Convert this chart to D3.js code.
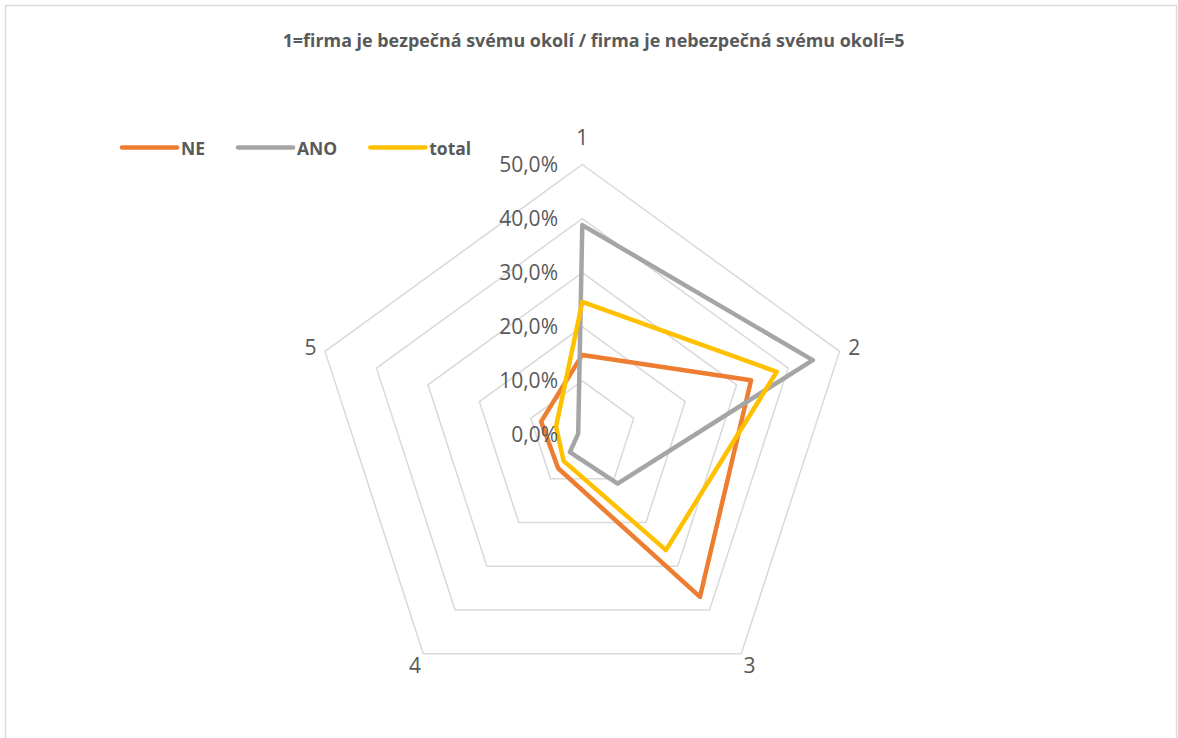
<!DOCTYPE html>
<html>
<head>
<meta charset="utf-8">
<script src="https://cdn.jsdelivr.net/npm/d3@7"></script>
<style>
  html, body { margin: 0; padding: 0; background: #ffffff; }
  svg { display: block; }
  text { font-family: "Open Sans", "Noto Sans", sans-serif; fill: #595959; }
</style>
</head>
<body>
<svg id="chart" width="1178" height="738"></svg>
<script>
// Radar chart data: share of answers per rating (1 = safe ... 5 = dangerous)
const categories = ["1", "2", "3", "4", "5"];
const tickValues = [0, 0.1, 0.2, 0.3, 0.4, 0.5];
const seriesNames = ["NE", "ANO", "total"];
const neValues = [0.148, 0.328, 0.370, 0.076, 0.080];
const anoValues = [0.388, 0.448, 0.111, 0.039, 0.008];
const totalValues = [0.246, 0.378, 0.263, 0.059, 0.051];
const seriesColors = ["#ED7D31", "#A5A5A5", "#FFC000"];
const titleText = "1=firma je bezpečná svému okolí / firma je nebezpečná svému okolí=5";

const series = [
  { name: seriesNames[0], values: neValues, color: seriesColors[0] },
  { name: seriesNames[1], values: anoValues, color: seriesColors[1] },
  { name: seriesNames[2], values: totalValues, color: seriesColors[2] }
];

const cx = 582.3, cy = 435, R = 270.5;

const svg = d3.select("#chart");

// chart area frame
svg.append("rect")
  .attr("x", 5.5).attr("y", 5.5)
  .attr("width", 1171).attr("height", 760)
  .attr("fill", "#ffffff")
  .attr("stroke", "#D9D9D9")
  .attr("stroke-width", 1.5);

// title
svg.append("text")
  .attr("x", 593.5).attr("y", 47)
  .attr("text-anchor", "middle")
  .attr("font-size", 17.9)
  .attr("font-weight", "bold")
  .text(titleText);

const r = d3.scaleLinear().domain([0, 0.5]).range([0, R]);
const angle = d3.scalePoint().domain(categories).range([0, 2 * Math.PI * (categories.length - 1) / categories.length]);

const g = svg.append("g").attr("transform", `translate(${cx},${cy})`);

// concentric grid pentagons
const ringLine = d3.lineRadial()
  .angle(c => angle(c))
  .curve(d3.curveLinearClosed);

g.selectAll("path.ring")
  .data(tickValues.filter(v => v > 0))
  .join("path")
  .attr("class", "ring")
  .attr("d", v => ringLine.radius(() => r(v))(categories))
  .attr("fill", "none")
  .attr("stroke", "#D9D9D9")
  .attr("stroke-width", 1.5);

// category labels around the outer ring
const labelGap = a => 14 + 14 * Math.pow(Math.max(0, Math.cos(a)), 2);
g.selectAll("text.cat")
  .data(categories)
  .join("text")
  .attr("class", "cat")
  .attr("x", c => (R + labelGap(angle(c))) * Math.sin(angle(c)))
  .attr("y", c => -(R + labelGap(angle(c))) * Math.cos(angle(c)))
  .attr("text-anchor", "middle")
  .attr("dominant-baseline", "central")
  .attr("font-size", 21)
  .text(c => c);

// value axis labels along the first spoke
const locale = d3.formatLocale({ decimal: ",", thousands: " ", grouping: [3], currency: ["", " Kč"] });
const yScale = d3.scaleLinear().domain([0, 0.5]).range([cy, cy - R]);
const yAxis = d3.axisLeft(yScale)
  .tickValues(tickValues)
  .tickSize(0)
  .tickPadding(0)
  .tickFormat(locale.format(".1%"));

const axisG = svg.append("g")
  .attr("transform", `translate(558,0)`)
  .call(yAxis);
axisG.select(".domain").remove();
axisG.selectAll("text")
  .attr("font-size", 21)
  .attr("font-family", "'Open Sans', 'Noto Sans', sans-serif")
  .attr("fill", "#595959");

// data series
const seriesLine = d3.lineRadial()
  .angle((d, i) => angle(categories[i]))
  .radius(d => r(d))
  .curve(d3.curveLinearClosed);

g.selectAll("path.series")
  .data(series)
  .join("path")
  .attr("class", "series")
  .attr("d", s => seriesLine(s.values))
  .attr("fill", "none")
  .attr("stroke", s => s.color)
  .attr("stroke-width", 4.5)
  .attr("stroke-linejoin", "round");

// legend: swatch line + bold name, items laid out left to right
const legend = svg.append("g").attr("transform", "translate(122,147.5)");
let cursor = 0;
series.forEach(s => {
  const item = legend.append("g").attr("transform", `translate(${cursor},0)`);
  item.append("line")
    .attr("x1", 0).attr("x2", 55)
    .attr("y1", 0).attr("y2", 0)
    .attr("stroke", s.color)
    .attr("stroke-width", 4.5)
    .attr("stroke-linecap", "round");
  const t = item.append("text")
    .attr("x", 59)
    .attr("y", 0)
    .attr("dominant-baseline", "central")
    .attr("font-size", 17.5)
    .attr("font-weight", "bold")
    .text(s.name);
  cursor += 59 + t.node().getComputedTextLength() + 33;
});
</script>
</body>
</html>
